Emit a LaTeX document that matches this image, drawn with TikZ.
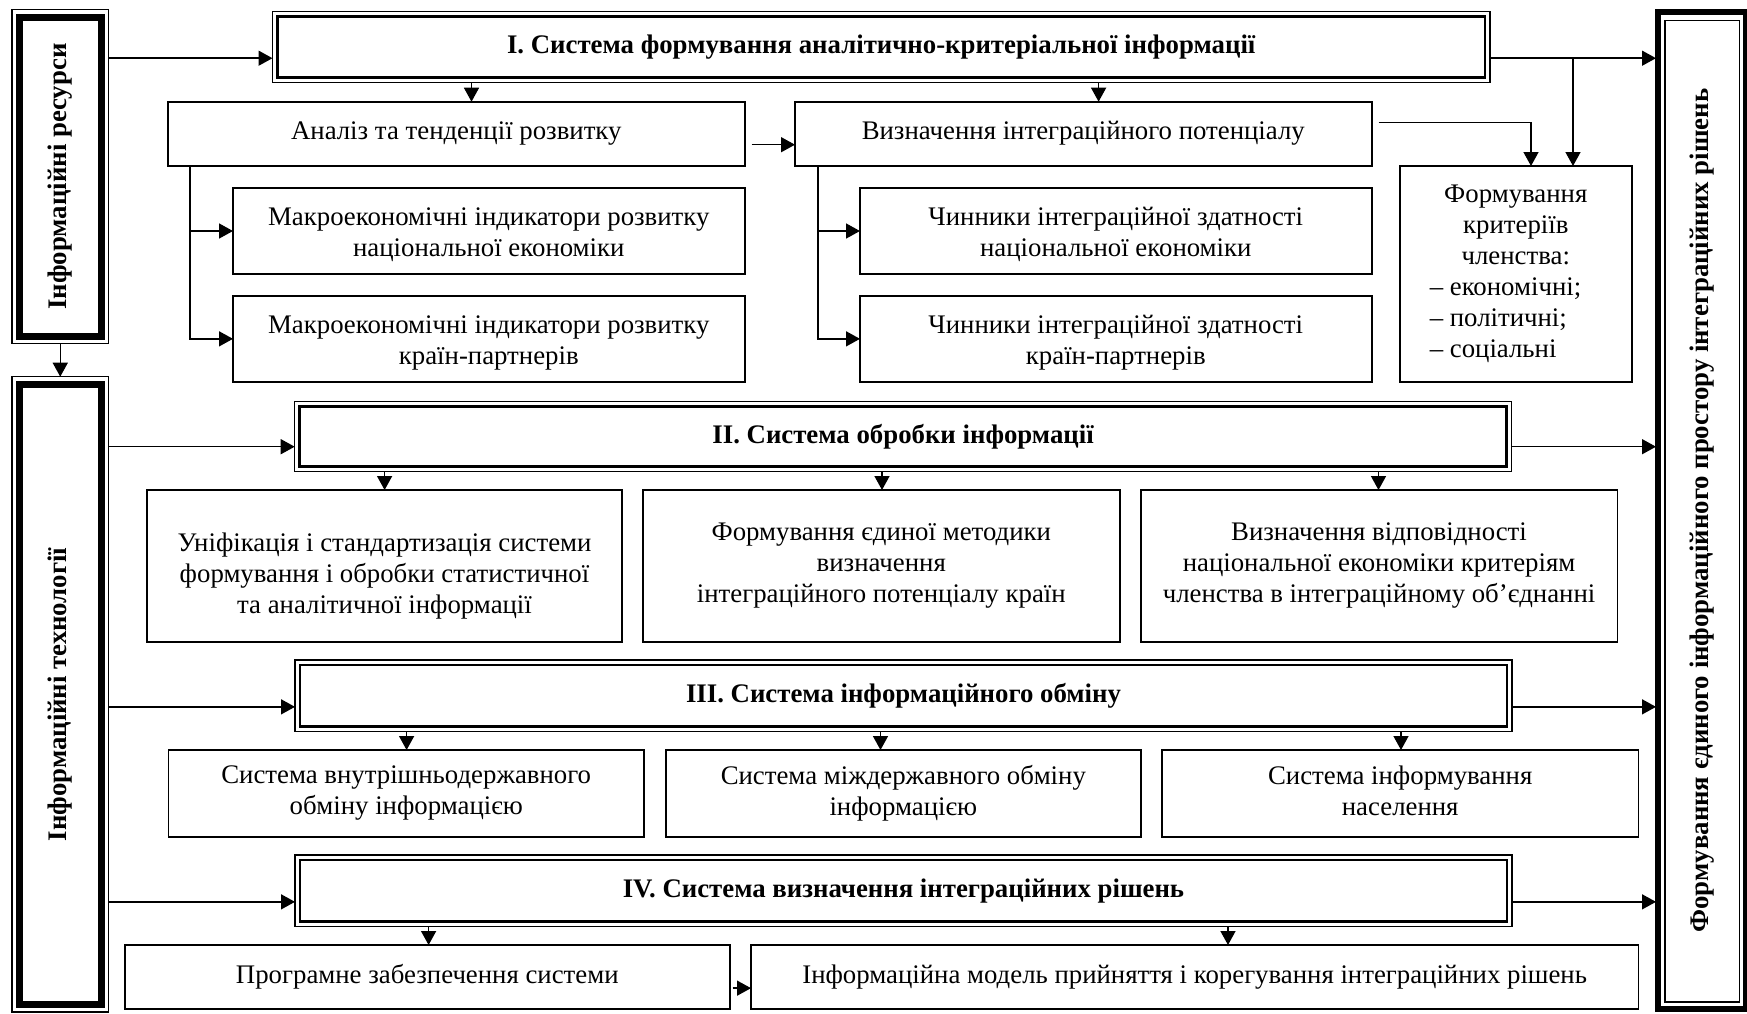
\documentclass[tikz,border=0pt]{standalone}
\usepackage{fontspec}
\setmainfont{Liberation Serif}
\usetikzlibrary{arrows.meta,calc}
\newcommand\fs{\fontsize{13.4pt}{15.5pt}\selectfont}
\newcommand\bx[7][box]{\node[#1, minimum width={(#5-#3)*0.5pt}, minimum height={(#6-#4)*0.5pt}] (#2) at ({(#3+#5)/2},{(#4+#6)/2}) {#7};}
\newcommand\lowtext[2]{\raisebox{-#1}[\height][\depth]{\begin{tabular}{@{}c@{}}#2\end{tabular}}}
\tikzset{
  box/.style={draw, line width=0.9pt, inner sep=0pt, outer sep=0pt, align=center, font=\fs},
  dbox/.style={draw, line width=0.6pt, inner sep=0pt, outer sep=0pt, align=center, font=\fs\bfseries},
  lbox/.style={draw, line width=0.6pt, inner sep=0pt, outer sep=0pt, align=center, font=\fs\bfseries},
  rbox/.style={draw, line width=3pt, inner sep=0pt, outer sep=0pt, align=center, font=\fs\bfseries},
  arr/.style={line width=0.75pt, -{Triangle[length=7pt,width=7.5pt]}},
  thickin/.style={line width=1.3pt},
  fatin/.style={line width=3.5pt},
  thinin/.style={line width=0.6pt}
}
\begin{document}
\begin{tikzpicture}[x=0.5pt,y=-0.5pt]
\useasboundingbox (0,0) rectangle (1747,1013);
% side boxes
\bx[lbox]{res}{12}{9.5}{108.5}{343.5}{\rotatebox{90}{Інформаційні ресурси}}
\draw[fatin] ($(res.north west)+(7.5,7.5)$) rectangle ($(res.south east)+(-7.5,-7.5)$);
\bx[lbox]{tech}{12}{376.7}{108.5}{1012}{\rotatebox{90}{Інформаційні технології}}
\draw[fatin] ($(tech.north west)+(7.5,7.5)$) rectangle ($(tech.south east)+(-7.5,-7.5)$);
\bx[rbox]{out}{1658}{12}{1745.5}{1009}{\rotatebox{90}{Формування єдиного інформаційного простору інтеграційних рішень}}
\draw[thinin] ($(out.north west)+(7,8.5)$) rectangle ($(out.south east)+(-6,-7)$);
% system boxes
\bx[dbox]{I}{272.5}{11.7}{1490}{82.7}{I. Система формування аналітично-критеріальної інформації}
\bx[dbox]{II}{294.7}{401.7}{1511.5}{471.7}{II. Система обробки інформації}
\bx[dbox]{III}{295}{660}{1512}{731.7}{III. Система інформаційного обміну}
\bx[dbox]{IV}{295}{855}{1512}{926.7}{IV. Система визначення інтеграційних рішень}
\foreach \n in {I,II,III,IV}{
  \draw[thickin] ($(\n.north west)+(5,5)$) rectangle ($(\n.south east)+(-5,-5)$);
}
% level I
\bx{A}{168}{101.7}{744.6}{165.7}{Аналіз та тенденції розвитку}
\bx{B}{795}{101.7}{1371.6}{165.7}{Визначення інтеграційного потенціалу}
\bx{M1}{233}{188}{744.6}{274}{\lowtext{2pt}{Макроекономічні індикатори розвитку\\національної економіки}}
\bx{M2}{233}{296}{744.6}{381.7}{\lowtext{2pt}{Макроекономічні індикатори розвитку\\країн-партнерів}}
\bx{C1}{860}{188}{1371.6}{274}{\lowtext{2pt}{Чинники інтеграційної здатності\\національної економіки}}
\bx{C2}{860}{296}{1371.6}{381.7}{\lowtext{2pt}{Чинники інтеграційної здатності\\країн-партнерів}}
\bx{F}{1400}{166}{1631.6}{381.7}{Формування\\критеріїв\\членства:\\\makebox[86pt][l]{– економічні;}\\\makebox[86pt][l]{– політичні;}\\\makebox[86pt][l]{– соціальні}}
% level II
\bx{U1}{147}{490}{622}{641.7}{\lowtext{5pt}{Уніфікація і стандартизація системи\\формування і обробки статистичної\\та аналітичної інформації}}
\bx{U2}{643}{490}{1119.6}{641.7}{Формування єдиної методики\\визначення\\інтеграційного потенціалу країн}
\bx{U3}{1140.6}{490}{1617.5}{641.7}{Визначення відповідності\\національної економіки критеріям\\членства в інтеграційному об’єднанні}
% level III
\bx{S1}{168.4}{750}{644}{836.7}{Система внутрішньодержавного\\обміну інформацією}
\bx{S2}{665.8}{750}{1140.8}{836.7}{Система міждержавного обміну\\інформацією}
\bx{S3}{1162}{750}{1638.4}{836.7}{Система інформування\\населення\vphantom{у}}
% level IV
\bx{P}{125}{945}{729.6}{1009.3}{Програмне забезпечення системи}
\bx{IM}{751}{945}{1638.4}{1009.3}{Інформаційна модель прийняття і корегування інтеграційних рішень}
% connectors from left
\draw[arr] (res.south) -- (tech.north);
\draw[arr] ($(res.east |- I.west)+(0,11)$) -- ($(I.west)+(0,11)$);
\draw[arr] ($(tech.east |- II.west)+(0,10)$) -- ($(II.west)+(0,10)$);
\draw[arr] ($(tech.east |- III.west)+(0,11)$) -- ($(III.west)+(0,11)$);
\draw[arr] ($(tech.east |- IV.west)+(0,11)$) -- ($(IV.west)+(0,11)$);
% connectors to right
\draw[arr] ($(I.east)+(0,11)$) -- ($(out.west |- I.east)+(-2,11)$);
\draw[arr] ($(II.east)+(0,10)$) -- ($(out.west |- II.east)+(-2,10)$);
\draw[arr] ($(III.east)+(0,11)$) -- ($(out.west |- III.east)+(-2,11)$);
\draw[arr] ($(IV.east)+(0,11)$) -- ($(out.west |- IV.east)+(-2,11)$);
% level I connectors
\draw[arr] (I.south -| 471.5,0) -- (A.north -| 471.5,0);
\draw[arr] (I.south -| 1098.6,0) -- (B.north -| 1098.6,0);
\draw[arr] ($(A.east)+(7,11)$) -- ($(B.west)+(0,11)$);
\draw[arr] (A.south -| 190,0) |- (M1.west);
\draw[arr] (A.south -| 190,0) |- (M2.west);
\draw[arr] (B.south -| 818,0) |- (C1.west);
\draw[arr] (B.south -| 818,0) |- (C2.west);
\draw[arr] ($(B.east)+(7,-11)$) -| (F.north -| 1531,0);
\coordinate (j1) at ($(I.east)+(83,11)$);
\draw[arr] (j1) -- (j1 |- F.north);
% level II connectors
\draw[arr] (II.south -| 384.6,0) -- (U1.north -| 384.6,0);
\draw[arr] (II.south -| 882,0) -- (U2.north -| 882,0);
\draw[arr] (II.south -| 1378.5,0) -- (U3.north -| 1378.5,0);
% level III connectors
\draw[arr] (III.south -| 406.6,0) -- (S1.north -| 406.6,0);
\draw[arr] (III.south -| 880.5,0) -- (S2.north -| 880.5,0);
\draw[arr] (III.south -| 1401,0) -- (S3.north -| 1401,0);
% level IV connectors
\draw[arr] (IV.south -| 428.6,0) -- (P.north -| 428.6,0);
\draw[arr] (IV.south -| 1228,0) -- (IM.north -| 1228,0);
\draw[arr] ($(P.east)+(3,11)$) -- ($(IM.west)+(0,11)$);
\end{tikzpicture}
\end{document}
